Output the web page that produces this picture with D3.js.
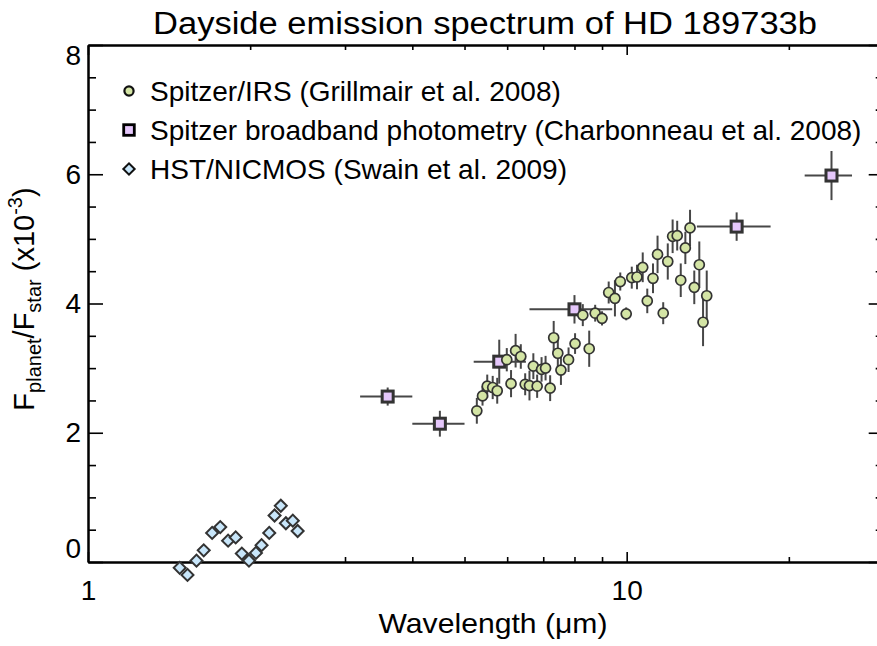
<!DOCTYPE html>
<html>
<head>
<meta charset="utf-8">
<script src="https://cdn.jsdelivr.net/npm/d3@7"></script>
<style>
  html, body { margin: 0; padding: 0; background: #fff; }
  svg { display: block; font-family: "Liberation Sans", Arial, sans-serif; }
</style>
</head>
<body>
<svg id="chart" width="877" height="646"></svg>
<script>
// Spitzer/IRS spectrum (Grillmair et al. 2008)
var irsWave = [5.27, 5.40, 5.51, 5.64, 5.75, 5.99, 6.10, 6.22, 6.36, 6.48, 6.60, 6.71, 6.82, 6.95, 7.07, 7.21,
    7.32, 7.45, 7.55, 7.80, 8.02, 8.29, 8.52, 8.74, 9.00, 9.26, 9.51, 9.73, 9.98, 10.22, 10.45, 10.71,
    10.92, 11.19, 11.41, 11.69, 11.92, 12.17, 12.41, 12.60, 12.85, 13.11, 13.35, 13.64, 13.86, 14.08];
var irsFlux = [2.34, 2.57, 2.72, 2.70, 2.65, 3.13, 2.76, 3.27, 3.18, 2.75, 2.73, 3.03, 2.72, 2.98, 3.00, 2.69,
    3.47, 3.23, 2.97, 3.13, 3.38, 3.82, 3.30, 3.85, 3.77, 4.17, 4.08, 4.34, 3.84, 4.40, 4.41, 4.56,
    4.04, 4.39, 4.76, 3.85, 4.65, 5.04, 5.05, 4.36, 4.86, 5.17, 4.25, 4.60, 3.71, 4.12];
var irsErr = [0.20, 0.15, 0.18, 0.18, 0.20, 0.18, 0.21, 0.26, 0.19, 0.17, 0.23, 0.20, 0.18, 0.19, 0.19, 0.20,
    0.26, 0.22, 0.23, 0.19, 0.16, 0.17, 0.28, 0.13, 0.11, 0.17, 0.28, 0.14, 0.10, 0.17, 0.19, 0.23,
    0.19, 0.23, 0.29, 0.17, 0.28, 0.26, 0.23, 0.26, 0.25, 0.28, 0.26, 0.36, 0.37, 0.39];

// Spitzer broadband photometry (Charbonneau et al. 2008), with band edges
var photWave = [3.6, 4.5, 5.8, 8.0, 16, 24];
var photFlux = [2.56, 2.14, 3.10, 3.91, 5.19, 5.98];
var photErr = [0.14, 0.20, 0.34, 0.22, 0.22, 0.38];
var photLo = [3.2, 4.0, 5.2, 6.6, 13.5, 21.4];
var photHi = [4.0, 5.0, 6.5, 9.4, 18.5, 26.2];

// HST/NICMOS spectrum (Swain et al. 2009)
var nicWave = [1.48, 1.53, 1.59, 1.64, 1.70, 1.76, 1.82, 1.88, 1.93, 1.99, 2.05, 2.10, 2.17, 2.22, 2.28, 2.33, 2.40, 2.45];
var nicFlux = [-0.09, -0.20, 0.02, 0.18, 0.45, 0.54, 0.33, 0.38, 0.13, 0.02, 0.14, 0.26, 0.45, 0.72, 0.87, 0.60, 0.64, 0.48];

var xMajor = [1, 10];
var xMinor = [2, 3, 4, 5, 6, 7, 8, 9, 20, 30];
var yMajor = [0, 2, 4, 6, 8];
var yMinor = [0.5, 1, 1.5, 2.5, 3, 3.5, 4.5, 5, 5.5, 6.5, 7, 7.5];

var legendLabels = [
    "Spitzer/IRS (Grillmair et al. 2008)",
    "Spitzer broadband photometry (Charbonneau et al. 2008)",
    "HST/NICMOS (Swain et al. 2009)"
];

var colIRS = "#d4e5a5",
    colPhot = "#e5c7fb",
    colNic = "#c8e6fa",
    edge = "#333",
    barCol = "#474747";

var svg = d3.select("#chart");

var padL = 88, padR = 883.7, padT = 45, padB = 562;

var x = d3.scaleLog().domain([1, 30]).range([padL, padR]);
var y = d3.scaleLinear().domain([0, 8]).range([padB, padT]);

var zip = function (a, b) { return a.map(function (v, i) { return [v, b[i]]; }); };

// axes: ticks point inward on all four sides
var axes = svg.append("g").attr("class", "axes");

var styleAxis = function (g) {
    g.selectAll("path.domain").attr("stroke", "#000").attr("stroke-width", 2);
    g.selectAll(".tick line").attr("stroke", "#000").attr("stroke-width", 1.6);
};

axes.append("g").attr("transform", "translate(0," + padB + ")")
    .call(d3.axisBottom(x).tickValues(xMinor).tickSize(-5).tickSizeOuter(0).tickFormat(""))
    .call(styleAxis);
axes.append("g").attr("transform", "translate(0," + padB + ")")
    .call(d3.axisBottom(x).tickValues(xMajor).tickSize(-10).tickSizeOuter(0).tickPadding(18).tickFormat(d3.format("d")))
    .call(styleAxis)
    .selectAll("text").attr("font-size", 28).attr("fill", "#000").attr("font-family", null);

axes.append("g").attr("transform", "translate(0," + padT + ")")
    .call(d3.axisTop(x).tickValues(xMinor).tickSize(-5).tickSizeOuter(0).tickFormat(""))
    .call(styleAxis);
axes.append("g").attr("transform", "translate(0," + padT + ")")
    .call(d3.axisTop(x).tickValues(xMajor).tickSize(-10).tickSizeOuter(0).tickFormat(""))
    .call(styleAxis);

axes.append("g").attr("transform", "translate(" + padL + ",0)")
    .call(d3.axisLeft(y).tickValues(yMinor).tickSize(-8).tickSizeOuter(0).tickFormat(""))
    .call(styleAxis);
axes.append("g").attr("transform", "translate(" + padL + ",0)")
    .call(d3.axisLeft(y).tickValues(yMajor).tickSize(-15).tickSizeOuter(0).tickPadding(7).tickFormat(d3.format("d")))
    .call(styleAxis)
    .selectAll("text")
    .attr("font-size", 28).attr("fill", "#000").attr("font-family", null)
    .attr("dy", function (d) { return d === 0 ? "-0.15em" : d === 8 ? "0.7em" : "0.32em"; });

axes.append("g").attr("transform", "translate(" + padR + ",0)")
    .call(d3.axisRight(y).tickValues(yMinor).tickSize(-8).tickSizeOuter(0).tickFormat(""))
    .call(styleAxis);
axes.append("g").attr("transform", "translate(" + padR + ",0)")
    .call(d3.axisRight(y).tickValues(yMajor).tickSize(-15).tickSizeOuter(0).tickFormat(""))
    .call(styleAxis);

// NICMOS diamonds
var diamond = d3.symbol().type(d3.symbolSquare).size(72);
svg.append("g").selectAll("path")
    .data(zip(nicWave, nicFlux))
    .enter().append("path")
    .attr("d", diamond)
    .attr("transform", function (d) { return "translate(" + x(d[0]) + "," + y(d[1]) + ") rotate(45)"; })
    .attr("fill", colNic).attr("stroke", edge).attr("stroke-width", 2);

// broadband photometry: band width and error bars, then squares
var phot = photWave.map(function (w, i) {
    return { w: w, f: photFlux[i], e: photErr[i], lo: photLo[i], hi: photHi[i] };
});
var photG = svg.append("g");
photG.selectAll("line.h").data(phot).enter().append("line")
    .attr("x1", function (d) { return x(d.lo); })
    .attr("x2", function (d) { return x(d.hi); })
    .attr("y1", function (d) { return y(d.f); })
    .attr("y2", function (d) { return y(d.f); })
    .attr("stroke", barCol).attr("stroke-width", 2);
photG.selectAll("line.v").data(phot).enter().append("line")
    .attr("x1", function (d) { return x(d.w); })
    .attr("x2", function (d) { return x(d.w); })
    .attr("y1", function (d) { return y(d.f - d.e); })
    .attr("y2", function (d) { return y(d.f + d.e); })
    .attr("stroke", barCol).attr("stroke-width", 2);
photG.selectAll("rect").data(phot).enter().append("rect")
    .attr("x", function (d) { return x(d.w) - 5.5; })
    .attr("y", function (d) { return y(d.f) - 5.5; })
    .attr("width", 11).attr("height", 11)
    .attr("fill", colPhot).attr("stroke", edge).attr("stroke-width", 3);

// IRS spectrum: error bars then circles
var irs = irsWave.map(function (w, i) { return { w: w, f: irsFlux[i], e: irsErr[i] }; });
var irsG = svg.append("g");
irsG.selectAll("line").data(irs).enter().append("line")
    .attr("x1", function (d) { return x(d.w); })
    .attr("x2", function (d) { return x(d.w); })
    .attr("y1", function (d) { return y(d.f - d.e); })
    .attr("y2", function (d) { return y(d.f + d.e); })
    .attr("stroke", barCol).attr("stroke-width", 2);
irsG.selectAll("circle").data(irs).enter().append("circle")
    .attr("cx", function (d) { return x(d.w); })
    .attr("cy", function (d) { return y(d.f); })
    .attr("r", 5)
    .attr("fill", colIRS).attr("stroke", edge).attr("stroke-width", 1.7);

// legend
var legend = svg.append("g").attr("transform", "translate(129,0)");
var rowY = [91, 130, 169];
legend.append("circle").attr("cx", 0).attr("cy", rowY[0]).attr("r", 4.6)
    .attr("fill", colIRS).attr("stroke", "#111").attr("stroke-width", 2.2);
legend.append("rect").attr("x", -5.3).attr("y", rowY[1] - 5.3).attr("width", 10.6).attr("height", 10.6)
    .attr("fill", colPhot).attr("stroke", "#000").attr("stroke-width", 2.8);
legend.append("path").attr("d", d3.symbol().type(d3.symbolSquare).size(64))
    .attr("transform", "translate(0," + rowY[2] + ") rotate(45)")
    .attr("fill", colNic).attr("stroke", "#111").attr("stroke-width", 2);
legend.selectAll("text").data(legendLabels).enter().append("text")
    .attr("x", 21)
    .attr("y", function (d, i) { return rowY[i] + 10; })
    .attr("font-size", 28)
    .text(function (d) { return d; });

// titles
svg.append("text").attr("x", 485).attr("y", 34).attr("text-anchor", "middle")
    .attr("font-size", 31).attr("textLength", 664).attr("lengthAdjust", "spacingAndGlyphs")
    .text("Dayside emission spectrum of HD 189733b");

svg.append("text").attr("x", 493).attr("y", 633).attr("text-anchor", "middle")
    .attr("font-size", 28).attr("textLength", 229).attr("lengthAdjust", "spacingAndGlyphs")
    .text("Wavelength (\u03bcm)");

var yt = svg.append("text")
    .attr("transform", "translate(34,299) rotate(-90)")
    .attr("text-anchor", "middle")
    .attr("font-size", 29);
yt.append("tspan").text("F");
yt.append("tspan").attr("font-size", 20).attr("dy", 7).text("planet");
yt.append("tspan").attr("dy", -7).text("/F");
yt.append("tspan").attr("font-size", 20).attr("dy", 7).text("star");
yt.append("tspan").attr("dy", -7).text(" (x10");
yt.append("tspan").attr("font-size", 20).attr("dy", -12).text("-3");
yt.append("tspan").attr("dy", 12).text(")");
</script>
</body>
</html>
